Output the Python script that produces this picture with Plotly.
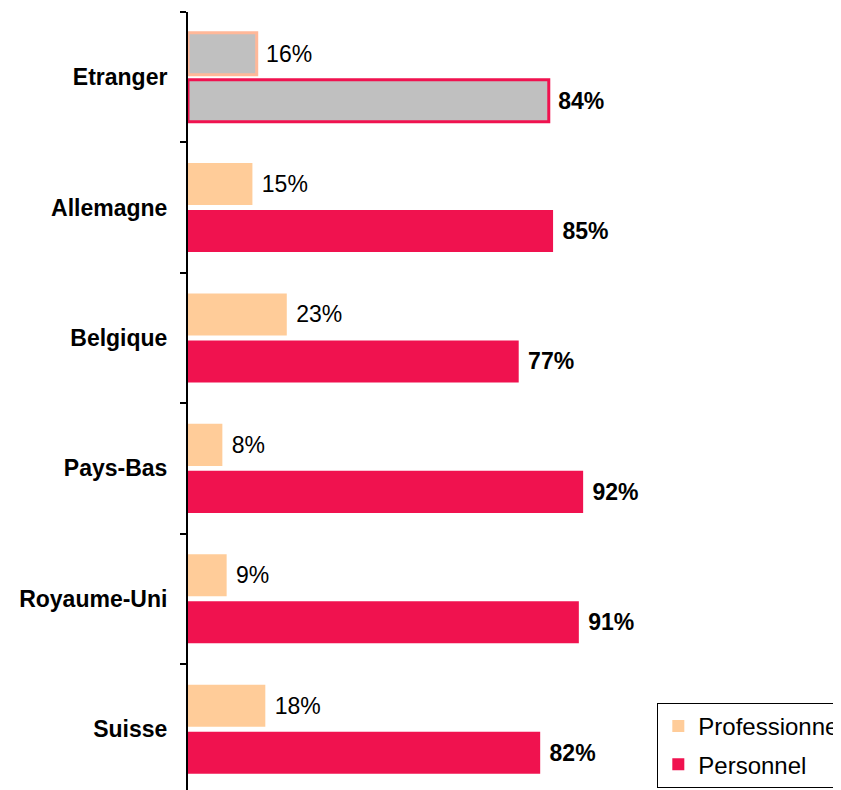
import plotly.graph_objects as go

categories = ["Etranger", "Allemagne", "Belgique", "Pays-Bas", "Royaume-Uni", "Suisse"]
professionnel = [16, 15, 23, 8, 9, 18]
personnel = [84, 85, 77, 92, 91, 82]

PEACH = "#FFCC99"
CRIMSON = "#F0124F"
GRAY = "#C0C0C0"

# draw order: highlighted category last so legend swatches use normal colours
order = list(range(1, len(categories))) + [0]
ys = [categories[i] for i in order]
prof_x = [professionnel[i] for i in order]
pers_x = [personnel[i] for i in order]
hl = [categories[i] == "Etranger" for i in order]

FONT = "Arial, Liberation Sans, sans-serif"
NB = "\u00a0"

fig = go.Figure()
fig.add_trace(go.Bar(
    name="Professionnel", y=ys, x=prof_x, orientation="h",
    marker=dict(color=[GRAY if h else PEACH for h in hl],
                line=dict(color=["#FFB899" if h else PEACH for h in hl],
                          width=[3 if h else 0 for h in hl])),
    text=[f"{NB}{v}%" for v in prof_x], textposition="outside",
    textfont=dict(family=FONT, size=23, color="black"),
    legendgroup="a", cliponaxis=False,
))
fig.add_trace(go.Bar(
    name="Personnel", y=ys, x=pers_x, orientation="h",
    marker=dict(color=[GRAY if h else CRIMSON for h in hl],
                line=dict(color=CRIMSON, width=[3 if h else 0 for h in hl])),
    text=[f"{NB}<b>{v}%</b>" for v in pers_x], textposition="outside",
    textfont=dict(family=FONT, size=23, color="black"),
    legendgroup="b", cliponaxis=False,
))

fig.update_layout(
    width=841, height=790,
    margin=dict(l=180, r=0, t=4, b=0, autoexpand=False),
    paper_bgcolor="white", plot_bgcolor="white",
    barmode="group", bargap=0.279, bargroupgap=0.106,
    font=dict(family=FONT, size=23, color="black"),
    xaxis=dict(visible=False, range=[0, 153.9], showgrid=False, zeroline=False),
    yaxis=dict(
        type="category", categoryorder="array", categoryarray=categories,
        range=[5.528, -0.5], tickson="boundaries",
        ticks="outside", ticklen=6, tickwidth=2, tickcolor="black",
        showline=True, linecolor="black", linewidth=2, showgrid=False,
        tickfont=dict(family=FONT, size=23, color="black", weight="bold"),
        ticklabelstandoff=14,
    ),
    showlegend=True,
    legend=dict(
        x=0.71, y=0.0127, xanchor="left", yanchor="bottom",
        bordercolor="black", borderwidth=1, bgcolor="white",
        font=dict(family=FONT, size=24, color="black"),
        traceorder="grouped", tracegroupgap=4,
    ),
)

fig.write_html("out.html")
